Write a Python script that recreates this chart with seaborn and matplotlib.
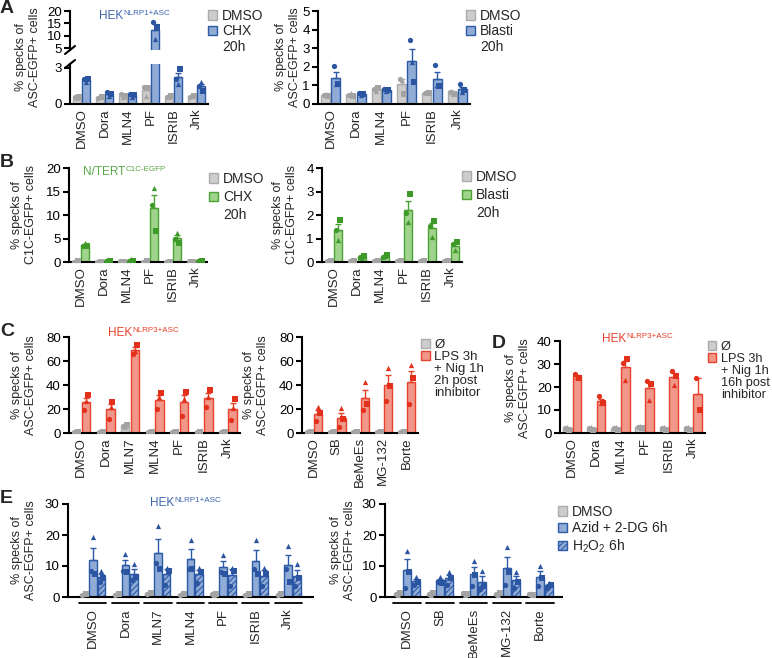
import numpy as np
import pandas as pd
import matplotlib.pyplot as plt
import matplotlib.transforms as mtransforms
from matplotlib.patches import Patch
from matplotlib.lines import Line2D
import seaborn as sns

# Data: three replicates per bar (circle, square, triangle)
a_cats = ['DMSO', 'Dora', 'MLN4', 'PF', 'ISRIB', 'Jnk']
a1_dmso = [[0.55, 0.6, 0.5], [0.5, 0.6, 0.55], [0.8, 0.7, 0.6], [1.4, 1.3, 0.7], [0.6, 0.65, 0.55], [0.6, 0.7, 0.65]]
a1_chx = [[2.05, 2.1, 1.8], [1.0, 0.8, 0.65], [0.85, 0.75, 0.6], [15.5, 13.5, 8.5], [2.05, 2.9, 1.7], [1.5, 1.1, 1.85]]
a2_dmso = [[0.5, 0.45, 0.55], [0.5, 0.45, 0.6], [0.8, 0.85, 0.7], [1.35, 0.55, 1.3], [0.6, 0.6, 0.65], [0.65, 0.55, 0.7]]
a2_blasti = [[2.05, 1.1, 1.05], [0.6, 0.55, 0.5], [0.78, 0.75, 0.72], [3.45, 1.2, 2.25], [2.1, 0.95, 1.0], [1.05, 0.75, 0.65]]

b1_dmso = [[0.1, 0.12, 0.1], [0.1, 0.1, 0.12], [0.12, 0.1, 0.1], [0.1, 0.12, 0.1], [0.1, 0.1, 0.12], [0.12, 0.1, 0.1]]
b1_chx = [[3.4, 3.3, 4.0], [0.3, 0.25, 0.35], [0.2, 0.15, 0.6], [12.2, 6.7, 15.8], [4.8, 4.1, 6.2], [0.2, 0.15, 0.25]]
b2_dmso = [[0.03, 0.04, 0.03], [0.03, 0.03, 0.04], [0.04, 0.03, 0.03], [0.03, 0.04, 0.03], [0.03, 0.03, 0.04], [0.04, 0.03, 0.03]]
b2_blasti = [[1.35, 1.8, 0.95], [0.2, 0.25, 0.15], [0.2, 0.3, 0.25], [2.1, 2.9, 1.7], [1.55, 1.75, 1.05], [0.75, 0.85, 0.5]]

c_cats = ['DMSO', 'Dora', 'MLN7', 'MLN4', 'PF', 'ISRIB', 'Jnk']
c1_ctrl = [[1.0, 1.2, 0.8], [1.0, 0.8, 1.2], [6.0, 7.0, 5.0], [1.0, 1.2, 0.8], [1.0, 1.2, 0.8], [1.0, 1.2, 0.8], [1.0, 1.2, 0.8]]
c1_lps = [[19.5, 31.5, 27], [12, 25.5, 22], [66, 73.5, 68], [20, 33.5, 30], [14, 34.5, 28], [21.5, 35.5, 30], [11, 28.5, 21]]
c2_cats = ['DMSO', 'SB', 'BeMeEs', 'MG-132', 'Borte']
c2_ctrl = [[1.0, 1.2, 0.8], [1.0, 0.8, 1.2], [1.0, 1.2, 0.8], [1.2, 1.0, 0.8], [1.0, 1.2, 0.8]]
c2_lps = [[10, 17, 21.5], [5, 12, 20.5], [19.5, 24.5, 42.5], [27, 39.5, 54.5], [24.5, 46, 56.5]]

d_ctrl = [[2.0, 1.5, 2.5], [2.0, 1.5, 2.5], [2.0, 1.5, 2.5], [2.5, 2.0, 3.0], [2.0, 1.5, 2.5], [2.0, 1.5, 2.5]]
d_lps = [[25.5, 24, 24.5], [16, 13, 13], [30.5, 32, 23], [22.5, 21.5, 14.5], [27, 25, 21], [24, 10, np.nan]]

e1_dmso = [[0.8, 1.0, 0.9], [0.8, 1.0, 0.9], [1.1, 1.3, 1.2], [0.8, 1.0, 0.9], [0.9, 1.0, 0.8], [0.8, 1.0, 0.9], [0.8, 1.0, 0.9]]
e1_azid = [[8.5, 7.5, 19.5], [8.5, 8, 14], [11, 9, 23], [9, 9, 18.5], [8, 7.5, 13.5], [9, 7.5, 18.5], [9, 5, 16.5]]
e1_h2o2 = [[5, 6, 8.5], [5.5, 6.5, 10.5], [4, 8.5, 9.5], [4.5, 8, 9.5], [3.5, 8.5, 9.5], [3.5, 7.5, 9.5], [3.5, 6, 10.5]]
e2_dmso = [[1.0, 1.2, 0.8], [1.0, 1.2, 0.8], [1.2, 1.0, 0.8], [1.0, 1.2, 0.8], [1.0, 0.8, 1.2]]
e2_azid = [[3, 8, 15], [5, 4.5, 6.5], [3.5, 7, 11.5], [3.8, 8, 16], [3.5, 6, 10]]
e2_h2o2 = [[4, 5, 6.5], [4, 6, 8], [2.5, 3.5, 8.5], [3, 5, 8], [3, 4, 4.5]]

# fill, edge, dots
GREY = ('#cdcdcd', '#acacac', '#a3a3a3')
BLUE = ('#8fabd6', '#2d5aa6', '#2b55a0')
GREEN = ('#a0d38c', '#4aa235', '#3e9a28')
RED = ('#f0978a', '#e8412c', '#e2301b')

W, H = 772, 658
sns.set_style('ticks')
plt.rcParams['font.family'] = ['Liberation Sans', 'DejaVu Sans']
plt.rcParams['hatch.linewidth'] = 0.8
fig = plt.figure(figsize=(W / 100, H / 100), dpi=100)
renderer = fig.canvas.get_renderer()


def rect(l, t, r, b):
    return [l / W, 1 - b / H, (r - l) / W, (b - t) / H]


def fxy(x, y):
    return (x / W, 1 - y / H)


def bars(ax, cats, series, styles, ylim, yticks, hatches=None, show_x=True, xpad=3):
    names = ['g%d' % i for i in range(len(series))]
    rows = []
    for name, vals in zip(names, series):
        for c, reps in zip(cats, vals):
            for r, v in enumerate(reps):
                rows.append((name, c, r, v))
    df = pd.DataFrame(rows, columns=['grp', 'cat', 'rep', 'val']).dropna()
    fills = dict(zip(names, [s[0] for s in styles]))
    dots = dict(zip(names, [s[2] for s in styles]))
    sns.barplot(data=df, x='cat', y='val', hue='grp', order=cats, hue_order=names,
                palette=fills, saturation=1, errorbar=None, width=0.8, gap=0.12,
                linewidth=1, legend=False, ax=ax)
    sem = df.groupby(['grp', 'cat'])['val'].sem()
    conts = list(ax.containers)
    for k, (cont, name, st) in enumerate(zip(conts, names, styles)):
        for bar, c in zip(cont, cats):
            bar.set_edgecolor(st[1])
            if hatches and hatches[k]:
                bar.set_hatch(hatches[k])
            x = bar.get_x() + bar.get_width() / 2
            se = sem.loc[(name, c)]
            if bar.get_height() + se < ylim[0]:
                continue  # hidden below a broken axis segment
            ax.errorbar([x], [bar.get_height()], yerr=[[0], [se]],
                        fmt='none', ecolor=st[1], elinewidth=1, capsize=2.2,
                        capthick=1, zorder=3)
    # points below the lower limit of a broken segment would peek over the edge
    pts = df[df.val >= ylim[0]]
    shifts = [-1.4, 1.4, 0.0]
    for r, m in enumerate(['o', 's', '^']):
        n0 = len(ax.collections)
        sns.stripplot(data=pts[pts.rep == r], x='cat', y='val', hue='grp', order=cats,
                      hue_order=names, palette=dots, dodge=True, jitter=False,
                      marker=m, size=3.8, linewidth=0, legend=False, ax=ax, zorder=4)
        tr = mtransforms.ScaledTranslation(shifts[r] / 72, 0, fig.dpi_scale_trans)
        for coll in ax.collections[n0:]:
            coll.set_offset_transform(coll.get_offset_transform() + tr)
    ax.set_ylim(*ylim)
    ax.set_yticks(yticks)
    ax.set_xlabel('')
    ax.set_ylabel('')
    sns.despine(ax=ax)
    for s in ['left', 'bottom']:
        ax.spines[s].set_linewidth(1.5)
        ax.spines[s].set_color('black')
    ax.tick_params(axis='y', length=4, width=1.5, labelsize=9.5, pad=2, colors='black')
    ax.tick_params(axis='x', length=0, labelsize=9.5, labelrotation=90, pad=xpad,
                   labelbottom=show_x)


def legend(ax, x, y, entries, spacing=0.1, size=10):
    handles, labels = [], []
    for lab, st, hatch in entries:
        if st is None:
            handles.append(Patch(facecolor='none', edgecolor='none'))
        else:
            handles.append(Patch(facecolor=st[0], edgecolor=st[1], hatch=hatch, linewidth=1))
        labels.append(lab)
    ax.legend(handles, labels, loc='upper left', bbox_to_anchor=fxy(x, y),
              bbox_transform=fig.transFigure, frameon=False, fontsize=size,
              handlelength=0.65, handleheight=0.65, handletextpad=0.35,
              labelspacing=spacing, borderpad=0, borderaxespad=0)


def ylabel(x, y, text):
    fig.text(*fxy(x, y), text, rotation=90, ha='center', va='center', fontsize=9,
             linespacing=1.15, multialignment='center')


def letter(x, y, s):
    fig.text(*fxy(x, y), s, fontsize=14, fontweight='bold', va='baseline')


def title(x, y, main, sup, color):
    t = fig.text(*fxy(x, y), main, color=color, fontsize=8.5, va='baseline')
    x1 = t.get_window_extent(renderer).x1
    fig.text(x1 / W + 0.5 / W, 1 - (y - 4) / H, sup, color=color, fontsize=5.8, va='baseline')


asc = '% specks of\nASC-EGFP+ cells'
c1c = '% specks of\nC1C-EGFP+ cells'

# Panel A, broken axis
ax_top = fig.add_axes(rect(70, 11, 208, 50))
bars(ax_top, a_cats, [a1_dmso, a1_chx], [GREY, BLUE], (4.19, 20), [5, 10, 15, 20], show_x=False)
ax_top.spines['bottom'].set_visible(False)
ax = fig.add_axes(rect(70, 64, 208, 104))
bars(ax, a_cats, [a1_dmso, a1_chx], [GREY, BLUE], (0, 3.33), [0, 3])
for (bx, by) in [(70, 50), (70, 64)]:
    fig.add_artist(Line2D([(bx - 5) / W, (bx + 5) / W], [1 - (by + 4) / H, 1 - (by - 4) / H],
                          color='black', lw=1.5))
legend(ax, 208, 9, [('DMSO', GREY, None), ('CHX', BLUE, None), ('20h', None, None)])
ylabel(28, 57, asc)
title(99, 19, 'HEK', 'NLRP1+ASC', '#3b64ad')
letter(0, 13, 'A')

ax = fig.add_axes(rect(318, 11, 470, 104))
bars(ax, a_cats, [a2_dmso, a2_blasti], [GREY, BLUE], (0, 5), [0, 1, 2, 3, 4, 5])
legend(ax, 466, 9, [('DMSO', GREY, None), ('Blasti', BLUE, None), ('20h', None, None)])
ylabel(288, 57, asc)

# Panel B
ax = fig.add_axes(rect(69, 168, 207, 262))
bars(ax, a_cats, [b1_dmso, b1_chx], [GREY, GREEN], (0, 20), [0, 5, 10, 15, 20])
legend(ax, 209, 172, [('DMSO', GREY, None), ('CHX', GREEN, None), ('20h', None, None)], spacing=0.3)
ylabel(24, 215, c1c)
title(83, 175, 'N/TERT', 'C1C-EGFP', '#5aa847')
letter(0, 167, 'B')

ax = fig.add_axes(rect(322, 168, 462, 262))
bars(ax, a_cats, [b2_dmso, b2_blasti], [GREY, GREEN], (0, 4), [0, 1, 2, 3, 4])
legend(ax, 462, 170, [('DMSO', GREY, None), ('Blasti', GREEN, None), ('20h', None, None)], spacing=0.3)
ylabel(285, 215, c1c)

# Panel C
ax = fig.add_axes(rect(69, 337, 240, 433))
bars(ax, c_cats, [c1_ctrl, c1_lps], [GREY, RED], (0, 80), [0, 20, 40, 60, 80])
ylabel(24, 385, asc)
title(108, 336, 'HEK', 'NLRP3+ASC', '#e8402a')
letter(0, 336, 'C')

ax = fig.add_axes(rect(302, 337, 418, 433))
bars(ax, c2_cats, [c2_ctrl, c2_lps], [GREY, RED], (0, 80), [0, 20, 40, 60, 80])
legend(ax, 421, 339, [('\u00d8', GREY, None), ('LPS 3h', RED, None), ('+ Nig 1h', None, None),
                      ('2h post', None, None), ('inhibitor', None, None)], spacing=0.0, size=9.5)
ylabel(256, 385, asc)

# Panel D
ax = fig.add_axes(rect(560, 341, 705, 433))
bars(ax, a_cats, [d_ctrl, d_lps], [GREY, RED], (0, 40), [0, 10, 20, 30, 40])
legend(ax, 708, 341, [('\u00d8', GREY, None), ('LPS 3h', RED, None), ('+ Nig 1h', None, None),
                      ('16h post', None, None), ('inhibitor', None, None)], spacing=0.0, size=9.2)
ylabel(518, 388, asc)
title(602, 342, 'HEK', 'NLRP3+ASC', '#e8402a')
letter(492, 348, 'D')

# Panel E
hatch = '//////'
ax = fig.add_axes(rect(68, 504, 313, 597))
bars(ax, c_cats, [e1_dmso, e1_azid, e1_h2o2], [GREY, BLUE, BLUE], (0, 30), [0, 10, 20, 30],
     hatches=[None, None, hatch], xpad=8)
for i in range(len(c_cats)):
    ax.plot([i - 0.42, i + 0.42], [-0.065, -0.065], transform=ax.get_xaxis_transform(),
            color='black', lw=1.3, clip_on=False)
ylabel(24, 550, asc)
title(150, 506, 'HEK', 'NLRP1+ASC', '#3b64ad')
letter(0, 503, 'E')

ax = fig.add_axes(rect(385, 504, 562, 597))
bars(ax, c2_cats, [e2_dmso, e2_azid, e2_h2o2], [GREY, BLUE, BLUE], (0, 30), [0, 10, 20, 30],
     hatches=[None, None, hatch], xpad=8)
for i in range(len(c2_cats)):
    ax.plot([i - 0.42, i + 0.42], [-0.065, -0.065], transform=ax.get_xaxis_transform(),
            color='black', lw=1.3, clip_on=False)
legend(ax, 558, 505, [('DMSO', GREY, None), ('Azid + 2-DG 6h', BLUE, None),
                      (r'H$_\mathregular{2}$O$_\mathregular{2}$ 6h', BLUE, hatch)], spacing=0.15)
ylabel(343, 550, asc)

fig.savefig('out.png', dpi=100)
